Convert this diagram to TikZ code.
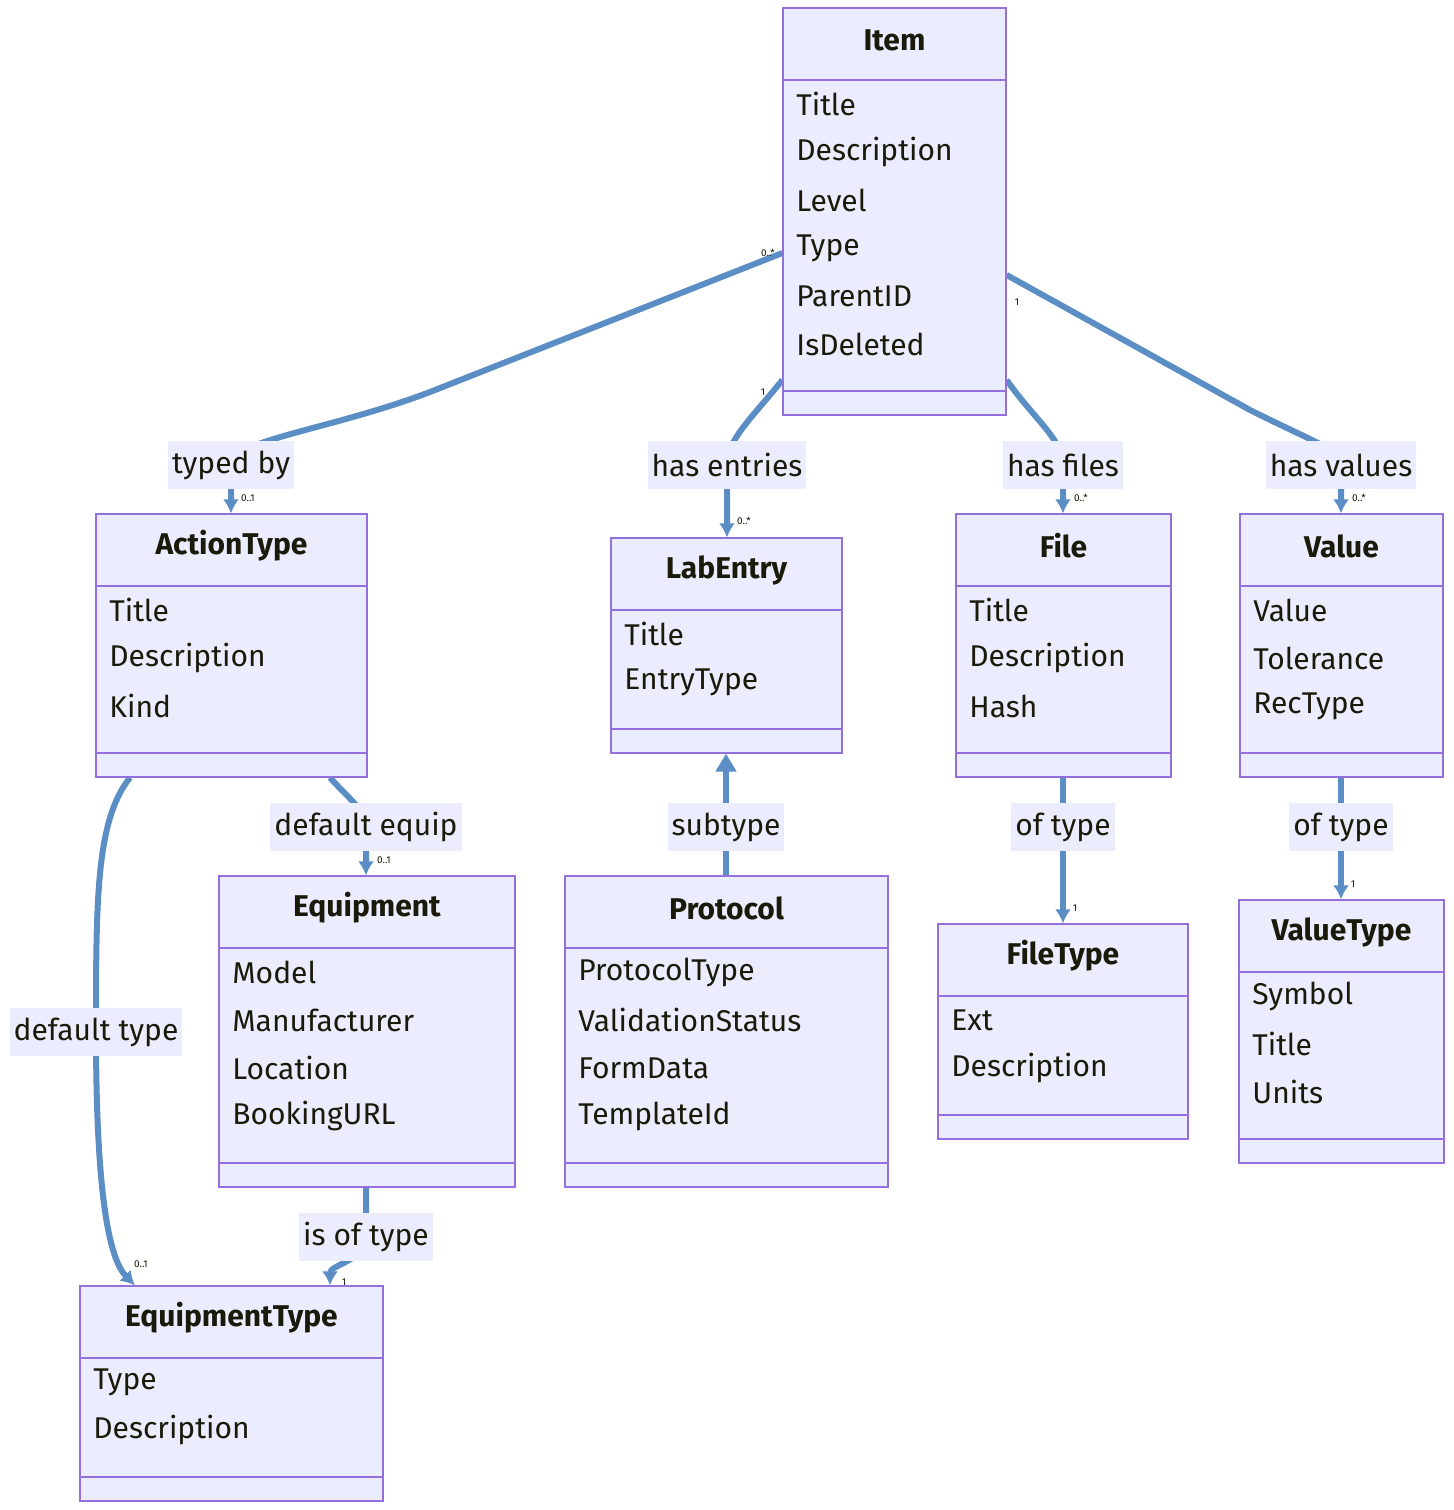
\documentclass[tikz,border=0pt]{standalone}
\usepackage{fontspec}
\setmainfont{Fira Sans}
\usetikzlibrary{arrows.meta,fit,backgrounds}
\definecolor{boxfill}{HTML}{ECECFF}
\definecolor{boxdraw}{HTML}{9370DB}
\definecolor{edge}{HTML}{5A8EC4}
\definecolor{txt}{HTML}{1A1A0A}
\tikzset{
  box/.style={draw=boxdraw,fill=boxfill,line width=0.6pt,inner sep=0pt},
  boxline/.style={draw=boxdraw,line width=0.6pt},
  ttl/.style={font=\fontsize{15}{18}\selectfont\bfseries,text=txt,inner sep=0pt},
  attr/.style={font=\fontsize{15}{18}\selectfont,text=txt,inner sep=0pt,anchor=west},
  lbl/.style={font=\fontsize{15}{18}\selectfont,text=txt,fill=boxfill,inner sep=2pt,minimum height=24pt},
  card/.style={font=\fontsize{5}{6}\selectfont,text=txt,inner sep=0pt},
  rel/.style={draw=edge,line width=3pt},
  arr/.style={rel,-{Latex[length=7pt,width=8pt]}},
  inh/.style={rel,-{Triangle[length=9pt,width=10pt]}},
}
\newcommand{\cls}[7]{%
  \node[box,fit={(#2,#3)(#4,#5)}] (#1) {};
  \draw[boxline] (#2,#3+72) -- (#4,#3+72);
  \draw[boxline] (#2,#5-24) -- (#4,#5-24);
  \node[ttl] (#1-t) at ({(#2+#4)/2},#3+32) {#6};
  \foreach \a [count=\i] in {#7} \node[attr] (#1-\i) at (#2+13,{#3+48+48*\i}) {\a};
}
\begin{document}
\begin{tikzpicture}[x=0.5pt,y=-0.5pt]
\useasboundingbox (0,0) rectangle (1453,1510);
\cls{item}{783}{8}{1006}{415}{Item}{Title,Description,Level,Type,ParentID,IsDeleted}
\cls{action}{96}{514}{367}{777}{ActionType}{Title,Description,Kind}
\cls{lab}{611}{538}{842}{753}{LabEntry}{Title,EntryType}
\cls{file}{956}{514}{1171}{777}{File}{Title,Description,Hash}
\cls{value}{1240}{514}{1443}{777}{Value}{Value,Tolerance,RecType}
\cls{equip}{219}{876}{515}{1187}{Equipment}{Model,Manufacturer,Location,BookingURL}
\cls{proto}{565}{876}{888}{1187}{Protocol}{ProtocolType,ValidationStatus,FormData,TemplateId}
\cls{ftype}{938}{924}{1188}{1139}{FileType}{Ext,Description}
\cls{vtype}{1239}{900}{1444}{1163}{ValueType}{Symbol,Title,Units}
\cls{etype}{80}{1286}{383}{1501}{EquipmentType}{Type,Description}

\node[lbl] (l1) at (231,465) {typed by};
\node[lbl] (l2) at (727,465) {has entries};
\node[lbl] (l3) at (1063,465) {has files};
\node[lbl] (l4) at (1341,465) {has values};
\node[lbl] (l5) at (96,1032) {default type};
\node[lbl] (l6) at (366,827) {default equip};
\node[lbl] (l7) at (726,827) {subtype};
\node[lbl] (l8) at (1063,827) {of type};
\node[lbl] (l9) at (1341,827) {of type};
\node[lbl] (l10) at (366,1237) {is of type};

\begin{scope}[on background layer]
\draw[arr] (item.west |- 0,253) -- (430,392) .. controls (330,430) and (231,440) .. (l1.center) -- (action.north -| 231,0);
\draw[arr] (item.west |- 0,380) .. controls (750,420) and (727,440) .. (l2.center) -- (lab.north -| 727,0);
\draw[arr] (item.east |- 0,380) .. controls (1035,420) and (1063,440) .. (l3.center) -- (file.north -| 1063,0);
\draw[arr] (item.east |- 0,275) -- (1250,410) .. controls (1320,445) and (1341,450) .. (l4.center) -- (value.north -| 1341,0);
\draw[arr] (action.south -| 130,0) .. controls (96,820) and (96,900) .. (l5.center) .. controls (96,1200) and (110,1260) .. (etype.north -| 135,0);
\draw[arr] (action.south -| 330,0) .. controls (345,795) and (366,810) .. (l6.center) -- (equip.north -| 366,0);
\draw[inh] (proto.north -| 726,0) -- (l7.center) -- (lab.south -| 726,0);
\draw[arr] (file.south -| 1063,0) -- (l8.center) -- (ftype.north -| 1063,0);
\draw[arr] (value.south -| 1341,0) -- (l9.center) -- (vtype.north -| 1341,0);
\draw[arr] (equip.south -| 366,0) -- (l10.center) .. controls (366,1260) and (330,1265) .. (etype.north -| 330,0);
\end{scope}

\node[card] (c1) at (768,253) {0..*};
\node[card] (c2) at (248,498) {0..1};
\node[card] (c3) at (763,392) {1};
\node[card] (c4) at (744,521) {0..*};
\node[card] (c5) at (1081,498) {0..*};
\node[card] (c6) at (1017,302) {1};
\node[card] (c7) at (1359,498) {0..*};
\node[card] (c8) at (141,1264) {0..1};
\node[card] (c9) at (384,860) {0..1};
\node[card] (c10) at (1075,908) {1};
\node[card] (c11) at (1353,884) {1};
\node[card] (c12) at (344,1282) {1};
\end{tikzpicture}
\end{document}
